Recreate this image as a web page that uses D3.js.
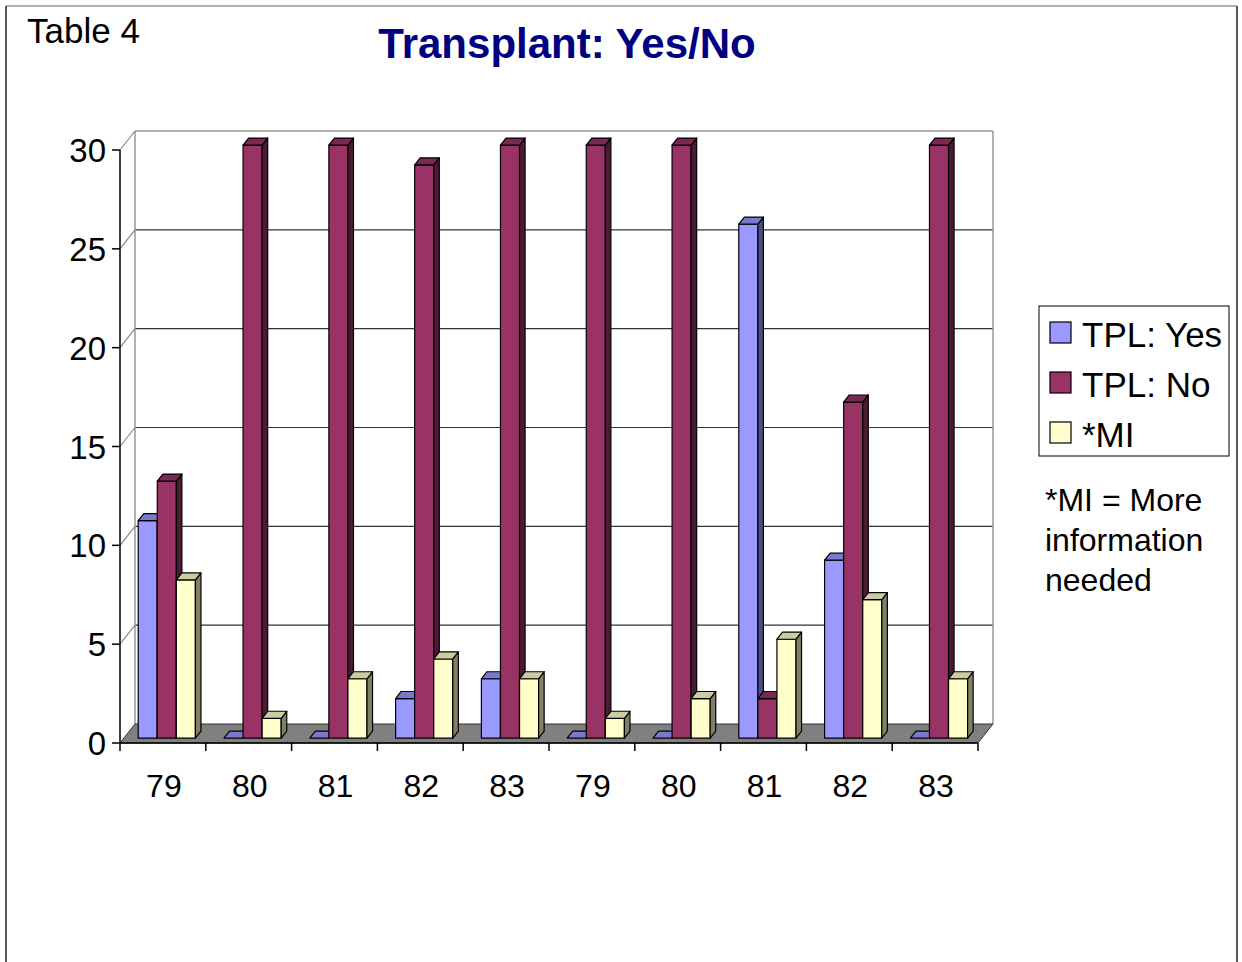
<!DOCTYPE html>
<html>
<head>
<meta charset="utf-8">
<script src="https://cdn.jsdelivr.net/npm/d3@7"></script>
<style>
  html, body { margin: 0; padding: 0; background: #fff; }
  svg { display: block; font-family: "Liberation Sans", Arial, sans-serif; }
</style>
</head>
<body>
<svg id="chart" width="1242" height="962"></svg>
<script>
// ---- data ----
const categories = ["79", "80", "81", "82", "83", "79", "80", "81", "82", "83"];
const seriesNames = ["TPL: Yes", "TPL: No", "*MI"];
const tplYes = [11, 0, 0, 2, 3, 0, 0, 26, 9, 0];
const tplNo  = [13, 30, 30, 29, 30, 30, 30, 2, 17, 30];
const mi     = [8, 1, 3, 4, 3, 1, 2, 5, 7, 3];
const yTicks = [0, 5, 10, 15, 20, 25, 30];
const seriesColors = ["#9999FF", "#993366", "#FFFFCC"];
const noteLines = ["*MI = More", "information", "needed"];

const seriesValues = [tplYes, tplNo, mi];

const svg = d3.select("#chart");

// outer frame
svg.append("line").attr("x1", 6).attr("y1", 6).attr("x2", 1237).attr("y2", 6).attr("stroke", "#999").attr("stroke-width", 1.5);
svg.append("line").attr("x1", 6).attr("y1", 6).attr("x2", 6).attr("y2", 962).attr("stroke", "#222").attr("stroke-width", 1.5);
svg.append("line").attr("x1", 1237).attr("y1", 6).attr("x2", 1237).attr("y2", 962).attr("stroke", "#222").attr("stroke-width", 1.5);

// titles
svg.append("text").attr("x", 27).attr("y", 43).attr("font-size", 35).attr("fill", "#000").text("Table 4");
svg.append("text").attr("x", 567).attr("y", 58).attr("text-anchor", "middle")
  .attr("font-size", 42).attr("font-weight", "bold").attr("fill", "#000080").text("Transplant: Yes/No");

// ---- geometry ----
const x0 = 120, x1 = 978, yBase = 743, yTop = 150;
const DX = 15, DY = -19;            // full depth offset of the 3D box
const fFront = 0.26, fBack = 0.63;  // bar depth fractions

const x = d3.scaleBand().domain(d3.range(categories.length)).range([x0, x1]).paddingInner(0).paddingOuter(0);
const xs = d3.scaleBand().domain(seriesNames).range([0, x.bandwidth()]).paddingInner(0).paddingOuter(0.75);
const y = d3.scaleLinear().domain([0, 30]).range([yBase, yTop]);

// back wall gridlines
const g = svg.append("g");
g.selectAll(".grid").data(yTicks.filter(t => t > 0 && t < 30)).join("line")
  .attr("x1", x0 + DX).attr("x2", x1 + DX)
  .attr("y1", d => y(d) + DY).attr("y2", d => y(d) + DY)
  .attr("stroke", "#333").attr("stroke-width", 1.2);
// wall borders
g.append("line").attr("x1", x0 + DX).attr("x2", x1 + DX).attr("y1", y(30) + DY).attr("y2", y(30) + DY).attr("stroke", "#999").attr("stroke-width", 1.5);
g.append("line").attr("x1", x1 + DX).attr("x2", x1 + DX).attr("y1", y(30) + DY).attr("y2", y(0) + DY).attr("stroke", "#999").attr("stroke-width", 1.5);
g.append("line").attr("x1", x0 + DX).attr("x2", x0 + DX).attr("y1", y(30) + DY).attr("y2", y(0) + DY).attr("stroke", "#999").attr("stroke-width", 1.5);
// left wall diagonals
g.selectAll(".diag").data(yTicks.filter(t => t > 0)).join("line")
  .attr("x1", x0).attr("x2", x0 + DX)
  .attr("y1", d => y(d)).attr("y2", d => y(d) + DY)
  .attr("stroke", "#888").attr("stroke-width", 1.2);

// floor
g.append("path")
  .attr("d", `M${x0},${y(0)} L${x1},${y(0)} L${x1 + DX},${y(0) + DY} L${x0 + DX},${y(0) + DY} Z`)
  .attr("fill", "#808080").attr("stroke", "#333").attr("stroke-width", 1);

// bars
function shade(c, k) {
  const r = d3.rgb(c);
  return d3.rgb(r.r * k, r.g * k, r.b * k).formatHex();
}
const fdx = DX * fFront, fdy = DY * fFront;
const bdx = DX * fBack, bdy = DY * fBack;
const bars = [];
categories.forEach((c, i) => {
  seriesNames.forEach((s, j) => {
    bars.push({ i, j, v: seriesValues[j][i] });
  });
});
const bg = svg.append("g").attr("stroke", "#000").attr("stroke-width", 1.2).attr("stroke-linejoin", "round");
bars.forEach(b => {
  const bx = x(b.i) + xs(seriesNames[b.j]) + fdx;
  const w = xs.bandwidth();
  const yt = y(b.v) + fdy;
  const yb = y(0) + fdy;
  const col = seriesColors[b.j];
  const ddx = bdx - fdx, ddy = bdy - fdy;
  if (b.v > 0) {
    bg.append("rect").attr("x", bx).attr("y", yt).attr("width", w).attr("height", yb - yt).attr("fill", col);
    bg.append("path").attr("d", `M${bx + w},${yt} L${bx + w + ddx},${yt + ddy} L${bx + w + ddx},${yb + ddy} L${bx + w},${yb} Z`)
      .attr("fill", shade(col, 0.5));
    bg.append("path").attr("d", `M${bx},${yt} L${bx + w},${yt} L${bx + w + ddx},${yt + ddy} L${bx + ddx},${yt + ddy} Z`)
      .attr("fill", shade(col, 0.8));
  } else {
    bg.append("path").attr("d", `M${bx},${yt} L${bx + w},${yt} L${bx + w + ddx},${yt + ddy} L${bx + ddx},${yt + ddy} Z`)
      .attr("fill", shade(col, 0.8));
  }
});

// axes
const ax = svg.append("g").attr("stroke", "#000").attr("stroke-width", 1.5);
ax.append("line").attr("x1", x0).attr("x2", x0).attr("y1", y(30)).attr("y2", y(0));
ax.append("line").attr("x1", x0).attr("x2", x1).attr("y1", y(0)).attr("y2", y(0));
ax.selectAll(".yt").data(yTicks).join("line")
  .attr("x1", x0 - 8).attr("x2", x0).attr("y1", d => y(d)).attr("y2", d => y(d));
const xTickPos = d3.range(categories.length).map(i => x(i)).concat([x1]);
ax.selectAll(".xt").data(xTickPos).join("line")
  .attr("x1", d => d).attr("x2", d => d).attr("y1", y(0)).attr("y2", y(0) + 8);

svg.selectAll(".ylab").data(yTicks).join("text")
  .attr("x", 106).attr("y", d => y(d) + 12).attr("text-anchor", "end")
  .attr("font-size", 33).attr("fill", "#000").text(d => d);
svg.selectAll(".xlab").data(categories).join("text")
  .attr("x", (d, i) => x(i) + x.bandwidth() / 2 + 1).attr("y", 797).attr("text-anchor", "middle")
  .attr("font-size", 32).attr("fill", "#000").text(d => d);

// legend
const lg = svg.append("g");
lg.append("rect").attr("x", 1039).attr("y", 306).attr("width", 190).attr("height", 150)
  .attr("fill", "#fff").attr("stroke", "#000").attr("stroke-width", 1);
seriesNames.forEach((s, j) => {
  lg.append("rect").attr("x", 1050).attr("y", 322 + j * 50).attr("width", 21).attr("height", 21)
    .attr("fill", seriesColors[j]).attr("stroke", "#000").attr("stroke-width", 1.2);
  lg.append("text").attr("x", 1082).attr("y", 347 + j * 50).attr("font-size", 35).attr("fill", "#000").text(s);
});
noteLines.forEach((t, k) => {
  svg.append("text").attr("x", 1045).attr("y", 511 + k * 40).attr("font-size", 32).attr("fill", "#000").text(t);
});
</script>
</body>
</html>
